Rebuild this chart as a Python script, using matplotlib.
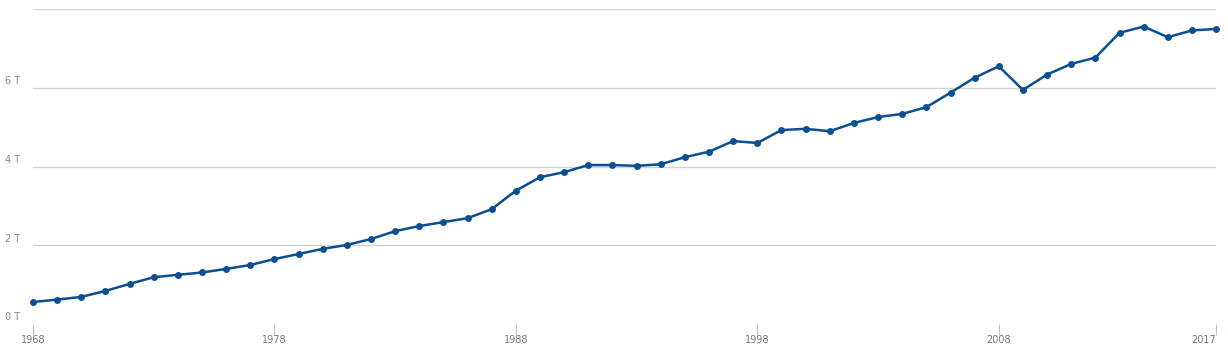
import matplotlib
matplotlib.use("Agg")
import matplotlib.pyplot as plt
import matplotlib.transforms as mtransforms

years = list(range(1968, 2018))
values = [0.56, 0.62, 0.69, 0.84, 1.02, 1.19, 1.25, 1.31, 1.40, 1.50,
          1.65, 1.78, 1.91, 2.01, 2.16, 2.36, 2.49, 2.59, 2.69, 2.92,
          3.39, 3.73, 3.86, 4.04, 4.04, 4.02, 4.06, 4.24, 4.38, 4.65,
          4.60, 4.93, 4.96, 4.90, 5.11, 5.26, 5.34, 5.51, 5.88, 6.26,
          6.55, 5.95, 6.34, 6.61, 6.77, 7.40, 7.56, 7.29, 7.46, 7.50]
xticks = [1968, 1978, 1988, 1998, 2008, 2017]
ylabels = [0, 2, 4, 6]
grid_vals = [2, 4, 6, 8]

fig = plt.figure(figsize=(12.28, 3.55), dpi=100)
ax = fig.add_axes([0.0269, 0.0873, 0.9634, 0.8867])

for g in grid_vals:
    ax.axhline(g, color="#d3d3d3", lw=1, zorder=0)

ax.plot(years, values, color="#0b4f92", lw=1.8, marker="o", ms=5,
        markeredgewidth=0, zorder=3, clip_on=False)

ax.set_xlim(1968, 2017)
ax.set_ylim(0, 8)
for s in ax.spines.values():
    s.set_visible(False)
ax.set_yticks([])
ax.set_xticks(xticks)
ax.set_xticklabels([str(x) for x in xticks], fontsize=7, color="#777777")
ax.tick_params(axis="x", length=8, width=0.8, color="#aec6df", pad=0)
ax.get_xticklabels()[-1].set_ha("right")

trans = mtransforms.blended_transform_factory(fig.transFigure, ax.transData)
for v in ylabels:
    ax.text(0.004, v + 0.04, f"{v} T", transform=trans, fontsize=7,
            color="#888888", ha="left", va="bottom")

fig.savefig("out.png", dpi=100)
